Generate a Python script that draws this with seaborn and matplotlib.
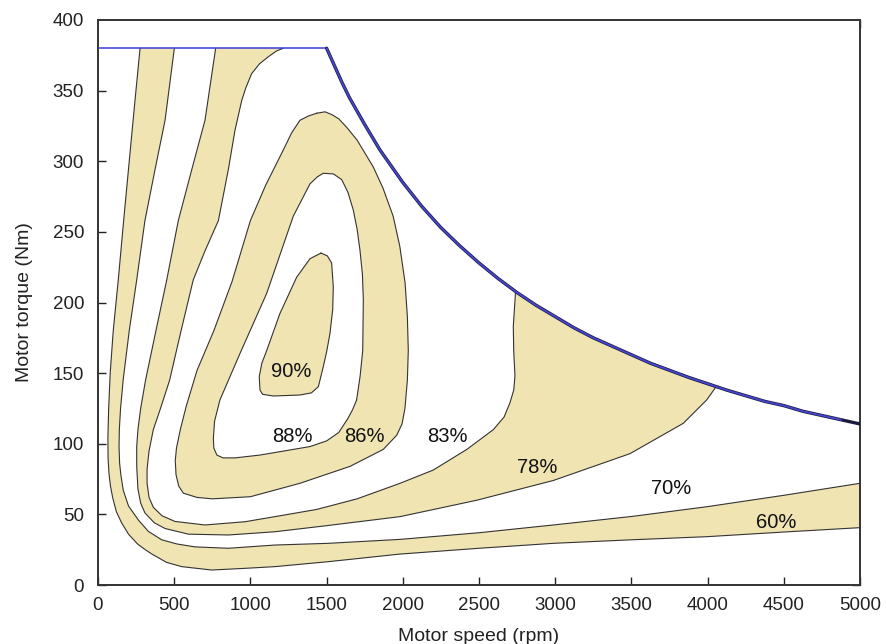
import matplotlib
matplotlib.use("Agg")
import matplotlib.pyplot as plt
import seaborn as sns
import pandas as pd

# ---------------- data ----------------
# contour 60 % (outermost)
speed_60 = [276, 240, 205, 170, 133, 100, 80, 70, 65, 66, 72, 82, 96, 120, 155, 200, 260, 310, 352, 450,
            549, 746, 965, 1161, 1510, 1982, 2500, 2988, 3500, 3994, 4500, 5000]
torque_60 = [380, 340, 300, 260, 216, 180, 150, 125, 105, 90, 79, 70, 62, 52, 44, 36, 29, 25, 22, 16,
             13, 10.6, 11.8, 13, 16.5, 21.9, 26, 29.5, 32, 34.2, 37.5, 40.6]
# contour 70 %
speed_70 = [501, 440, 374, 308, 254, 205, 165, 148, 140, 138, 142, 150, 166, 200, 265, 330, 418, 520, 636, 855,
            1161, 1510, 1982, 2500, 2988, 3500, 3994, 4500, 5000]
torque_70 = [380, 329, 294, 258, 216, 180, 145, 125, 110, 98, 86, 78, 67, 56, 46, 38, 32, 29, 27, 26,
             28.3, 29.5, 32.3, 37, 42.5, 48.5, 55.4, 63.5, 72]
# contour 78 %
speed_78 = [772, 702, 615, 527, 451, 380, 312, 280, 262, 254, 254, 262, 280, 308, 370, 440, 593, 855, 1161,
            1500, 1982, 2485, 2988, 3491, 3841, 3994, 4060]
torque_78 = [380, 329, 294, 258, 216, 180, 145, 125, 110, 98, 84, 68, 58, 51, 44, 40, 36, 35.4, 37.7,
             42, 48.4, 60, 74, 93, 114.5, 131, 141]
# contour 83 %
speed_83 = [1216, 1170, 1118, 1060, 1008, 970, 943, 920, 899, 855, 790, 700, 625, 545, 470, 410, 363, 335,
            322, 322, 335, 363, 420, 505, 702, 965, 1161, 1435, 1700, 1982, 2200, 2420, 2594, 2665, 2703,
            2728, 2736, 2728, 2725, 2740]
torque_83 = [380, 378, 374, 369, 362, 352, 343, 332, 322, 294, 258, 236, 216, 180, 145, 125, 110, 95,
             82, 72, 62, 55, 49, 45, 42.5, 44.8, 48.4, 53.5, 61, 72, 81.4, 96, 110, 119, 129,
             138, 148, 165, 183, 208]
# contour 86 % (closed)
speed_86 = [1435, 1380, 1325, 1270, 1216, 1100, 1000, 880, 760, 650, 580, 540, 515, 507, 512, 530, 560, 650,
            750, 1000, 1325, 1654, 1872, 1960, 1995, 2014, 2030, 2036, 2030, 2015, 1980, 1937, 1870, 1806,
            1700, 1632, 1580, 1535, 1490, 1435]
torque_86 = [334, 332, 329, 320, 308, 283, 258, 215, 180, 152, 127, 110, 97, 88, 78, 70, 65, 62,
             61, 62.5, 72, 84, 96, 106, 114, 125, 145, 166, 190, 214, 240, 261, 281, 296,
             315, 324, 330, 333, 335, 334]
# contour 88 % (closed)
speed_88 = [1697, 1670, 1640, 1580, 1500, 1391, 1063, 900, 820, 780, 760, 757, 765, 800, 932, 1107, 1281,
            1391, 1440, 1478, 1545, 1599, 1640, 1675, 1700, 1719, 1735, 1741, 1737, 1720, 1697]
torque_88 = [131, 124, 118, 108, 102, 98, 92, 90, 90, 92, 97, 104, 116, 131, 164, 206.5, 261,
             284, 289, 291.5, 291, 287, 278, 265.5, 252, 237, 220, 202, 166, 148, 131]
# contour 90 % (closed)
speed_90 = [1463, 1505, 1533, 1544, 1540, 1522, 1500, 1478, 1446, 1400, 1325, 1150, 1080, 1063, 1058, 1075,
            1107, 1194, 1304, 1391, 1463]
torque_90 = [235, 233, 228, 211, 195, 178, 165, 154.5, 140.4, 136, 134.5, 133.8, 135, 138, 147.5, 157,
             166, 192.3, 218, 231, 235]
# maximum torque envelope
speed_max = [0, 1500, 1550, 1600, 1650, 1750, 1850, 2000, 2125, 2250, 2375, 2500, 2625, 2750, 2875, 3000,
             3125, 3250, 3375, 3500, 3625, 3750, 3875, 4000, 4125, 4250, 4375, 4500, 4625, 4750, 4875, 5000]
torque_max = [380, 380, 368, 356, 345, 326, 308, 285, 268, 253, 240, 228, 217, 207, 198, 190,
              182, 175, 169, 163, 157, 152, 147, 142.5, 138, 134, 130, 127, 123, 120, 117, 114]

# band labels
label_text = ["90%", "88%", "86%", "83%", "78%", "70%", "60%"]
label_speed = [1266, 1273, 1745, 2290, 2880, 3760, 4449]
label_torque = [150.8, 104.8, 104.8, 104.8, 83.5, 68, 44.6]

x_ticks = [0, 500, 1000, 1500, 2000, 2500, 3000, 3500, 4000, 4500, 5000]
y_ticks = [0, 50, 100, 150, 200, 250, 300, 350, 400]

# ---------------- drawing ----------------
sns.set_theme(style="ticks")
plt.rcParams["font.family"] = ["Liberation Sans", "DejaVu Sans"]

BEIGE = "#F0E4B3"
fig = plt.figure(figsize=(8.87, 6.44), dpi=100)
ax = fig.add_axes([98 / 887, 1 - 585 / 644, (860 - 98) / 887, (585 - 20) / 644])
ax.set_xlim(0, 5000)
ax.set_ylim(0, 400)
TOP = 400


def open_region(xs, ys, right_x):
    px = list(xs) + [right_x, xs[0]]
    py = list(ys) + [TOP, TOP]
    return px, py


regions = [
    (open_region(speed_60, torque_60, 5000), BEIGE),
    (open_region(speed_70, torque_70, 5000), "white"),
    (open_region(speed_78, torque_78, speed_78[-1]), BEIGE),
    (open_region(speed_83, torque_83, speed_83[-1]), "white"),
    ((speed_86, torque_86), BEIGE),
    ((speed_88, torque_88), "white"),
    ((speed_90, torque_90), BEIGE),
]
for (px, py), col in regions:
    ax.fill(px, py, color=col, lw=0, zorder=1)

# blank out region above the max torque envelope
ax.fill(speed_max + [5000, 0], torque_max + [TOP, TOP], color="white", lw=0, zorder=2)

# contour lines
for xs, ys in [(speed_60, torque_60), (speed_70, torque_70), (speed_78, torque_78),
               (speed_83, torque_83), (speed_86, torque_86), (speed_88, torque_88),
               (speed_90, torque_90)]:
    df = pd.DataFrame({"speed": xs, "torque": ys})
    sns.lineplot(data=df, x="speed", y="torque", sort=False, estimator=None,
                 color="#333333", lw=0.8, ax=ax, zorder=3)

# envelope
env = pd.DataFrame({"speed": speed_max, "torque": torque_max})
flat = env.iloc[:2]
curve = env.iloc[1:]
sns.lineplot(data=flat, x="speed", y="torque", sort=False, estimator=None,
             color="#3B3BD6", lw=1.1, ax=ax, zorder=4)
sns.lineplot(data=curve, x="speed", y="torque", sort=False, estimator=None,
             color="#1a1a3a", lw=2.4, ax=ax, zorder=4)
sns.lineplot(data=curve.iloc[:-1], x="speed", y="torque", sort=False, estimator=None,
             color="#4444CC", lw=1.4, ax=ax, zorder=5)

for t, xs, ys in zip(label_text, label_speed, label_torque):
    ax.text(xs, ys, t, ha="center", va="center", fontsize=14.5, color="#111111", zorder=6)

ax.set_xticks(x_ticks)
ax.set_yticks(y_ticks)
ax.tick_params(direction="in", length=6, width=1, top=True, right=True,
               labelsize=13.5, colors="#222222")
ax.tick_params(axis="x", pad=9)
ax.tick_params(axis="y", pad=10)
for s in ax.spines.values():
    s.set_linewidth(1.4)
    s.set_color("#333333")
    s.set_visible(True)
ax.set_xlabel("Motor speed (rpm)", fontsize=14, labelpad=10, color="#222222")
ax.set_ylabel("Motor torque (Nm)", fontsize=14, labelpad=14, color="#222222")
ax.grid(False)

fig.savefig("out.png", dpi=100)
